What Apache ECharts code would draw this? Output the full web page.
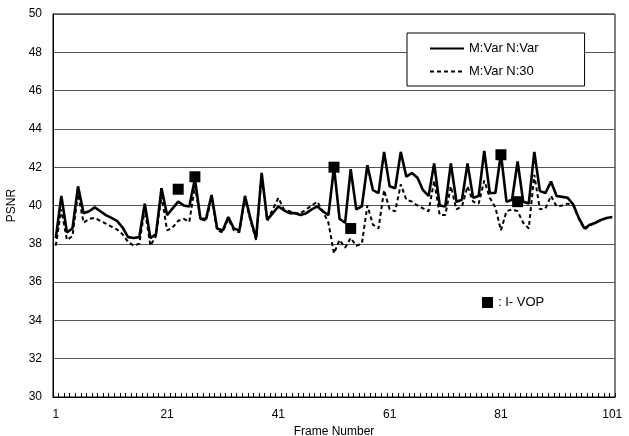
<!DOCTYPE html>
<html>
<head>
<meta charset="utf-8">
<script src="https://cdn.jsdelivr.net/npm/echarts@6/dist/echarts.min.js"></script>
<style>
html,body{margin:0;padding:0;background:#fff;}
#chart{width:629px;height:436px;}
</style>
</head>
<body>
<div id="chart"></div>
<script>
// ---- data ----
const frames = [];
for (let i = 1; i <= 101; i++) frames.push(String(i));

const seriesNames = ['M:Var N:Var', 'M:Var N:30'];
const ivopName = ': I- VOP';

const psnrVarVar = [
  38.3, 40.5, 38.6, 38.8, 41.0, 39.6, 39.7, 39.9, 39.7, 39.5,
  39.35, 39.2, 38.85, 38.35, 38.3, 38.35, 40.1, 38.3, 38.5, 40.9,
  39.5, 39.85, 40.2, 40.0, 39.95, 41.4, 39.3, 39.3, 40.55, 38.8,
  38.7, 39.4, 38.8, 38.7, 40.5, 39.3, 38.3, 41.7, 39.25, 39.6,
  39.95, 39.75, 39.6, 39.6, 39.5, 39.6, 39.8, 39.95, 39.7, 39.5,
  42.0, 39.3, 39.1, 41.9, 39.8, 39.95, 42.1, 40.8, 40.65, 42.8,
  41.0, 40.9, 42.8, 41.5, 41.7, 41.45, 40.8, 40.5, 42.2, 40.0,
  39.95, 42.2, 40.2, 40.3, 42.2, 40.4, 40.5, 42.85, 40.65, 40.65,
  42.7, 40.2, 40.3, 42.3, 40.2, 40.1, 42.8, 40.75, 40.65, 41.25,
  40.5, 40.45, 40.4, 40.05, 39.35, 38.8, 39.0, 39.1, 39.25, 39.35,
  39.4
];

const psnrVar30 = [
  37.9, 39.8, 38.2, 38.4, 40.6, 39.1, 39.3, 39.35, 39.2, 39.05,
  38.9, 38.75, 38.5, 38.1, 37.9, 38.0, 39.8, 37.9, 38.4, 40.5,
  38.7, 38.85, 39.2, 39.3, 39.15, 41.0, 39.3, 39.2, 40.4, 38.7,
  38.6, 39.3, 38.7, 38.6, 40.4, 39.2, 38.2, 41.5, 39.2, 39.8,
  40.4, 39.8, 39.7, 39.6, 39.6, 39.8, 40.0, 40.2, 39.7, 39.1,
  37.5, 38.2, 37.8, 38.3, 37.9, 38.0, 40.0, 39.0, 38.8, 40.8,
  39.8, 39.7, 41.1, 40.3, 40.2, 40.0, 39.85, 39.7, 41.3, 39.5,
  39.5, 41.0, 39.8, 39.95, 41.0, 40.2, 40.1, 41.3, 40.4, 39.9,
  38.7, 39.7, 39.8, 39.7, 39.1, 38.8, 41.6, 39.8, 39.85, 40.5,
  39.95, 40.0, 40.1, 40.0, 39.3, 38.75, 38.95, 39.1, 39.25, 39.35,
  39.4
];

const ivopFrames = ['23', '26', '51', '54', '81', '84'];
const ivopValues = [40.85, 41.5, 42.0, 38.8, 42.65, 40.2];

// ---- chart ----
const FONT = '"Liberation Sans", Arial, sans-serif';
const chart = echarts.init(document.getElementById('chart'), null, {renderer: 'canvas'});

chart.setOption({
  animation: false,
  backgroundColor: '#fff',
  textStyle: {fontFamily: FONT, color: '#000'},
  grid: {
    left: 53, right: 14, top: 14, bottom: 39,
    containLabel: false, outerBoundsMode: 'none',
    show: true, borderColor: '#000', borderWidth: 1, backgroundColor: 'transparent'
  },
  legend: [
    {
      data: seriesNames,
      orient: 'vertical',
      left: 407,
      top: 33,
      backgroundColor: '#fff',
      borderColor: '#000',
      borderWidth: 1,
      borderRadius: 0,
      padding: [9, 46, 8, 22],
      itemWidth: 34,
      itemHeight: 14,
      itemGap: 10,
      itemStyle: {color: 'transparent', borderColor: 'transparent', borderWidth: 0, opacity: 0},
      textStyle: {fontFamily: FONT, fontSize: 13, color: '#000'}
    },
    {
      data: [{name: ivopName, icon: 'rect'}],
      left: 482,
      top: 296,
      padding: 0,
      itemWidth: 11,
      itemHeight: 11,
      itemGap: 4,
      itemStyle: {color: '#000', opacity: 1},
      textStyle: {fontFamily: FONT, fontSize: 13, color: '#000'}
    }
  ],
  xAxis: {
    type: 'category',
    data: frames,
    boundaryGap: true,
    name: 'Frame Number',
    nameLocation: 'middle',
    nameGap: 28,
    nameTextStyle: {fontFamily: FONT, fontSize: 12, color: '#000'},
    axisLine: {lineStyle: {color: '#000', width: 1}},
    axisTick: {show: true, inside: true, interval: 0, length: 4, lineStyle: {color: '#000'}},
    axisLabel: {interval: 19, margin: 12, fontFamily: FONT, fontSize: 12, color: '#000'},
    splitLine: {show: false}
  },
  yAxis: {
    type: 'value',
    min: 30,
    max: 50,
    interval: 2,
    name: 'PSNR',
    nameLocation: 'middle',
    nameGap: 34,
    nameRotate: 90,
    nameTextStyle: {fontFamily: FONT, fontSize: 12, color: '#000'},
    axisLine: {show: true, lineStyle: {color: '#000', width: 1}},
    axisTick: {show: false},
    axisLabel: {margin: 11, fontFamily: FONT, fontSize: 12, color: '#000'},
    splitLine: {show: true, lineStyle: {color: '#555', width: 1}}
  },
  series: [
    {
      name: seriesNames[1],
      type: 'line',
      data: psnrVar30,
      symbol: 'none',
      z: 2,
      lineStyle: {color: '#000', width: 2, type: [4, 3]},
      itemStyle: {color: '#000'}
    },
    {
      name: seriesNames[0],
      type: 'line',
      data: psnrVarVar,
      symbol: 'none',
      z: 3,
      lineStyle: {color: '#000', width: 2.6, type: 'solid'},
      itemStyle: {color: '#000'}
    },
    {
      name: ivopName,
      type: 'scatter',
      data: ivopFrames.map((f, i) => [f, ivopValues[i]]),
      symbol: 'rect',
      symbolSize: 11,
      z: 4,
      itemStyle: {color: '#000', opacity: 1}
    }
  ]
});
</script>
</body>
</html>
